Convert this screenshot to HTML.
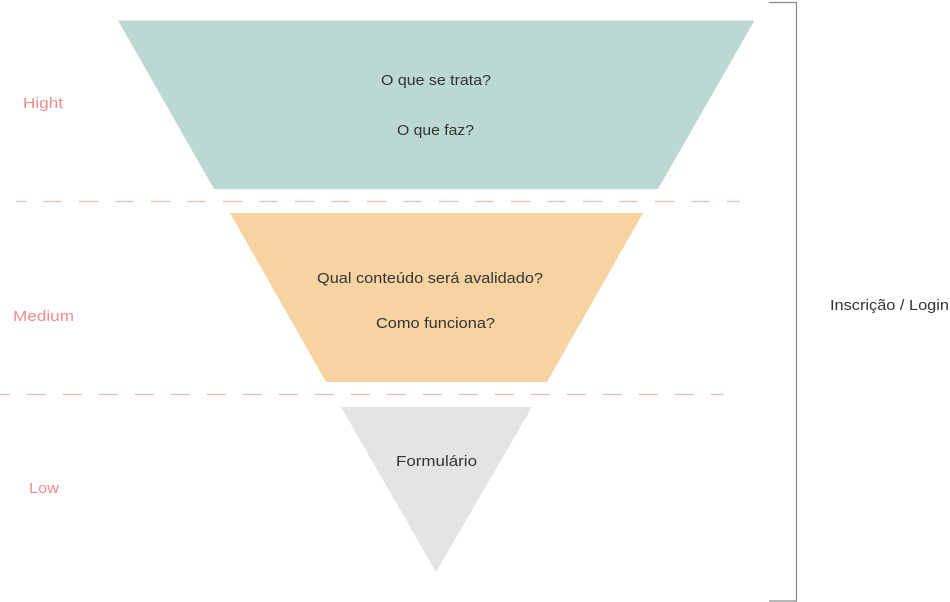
<!DOCTYPE html>
<html>
<head>
<meta charset="utf-8">
<style>
  html, body { margin: 0; padding: 0; background: #ffffff; }
  body { width: 950px; height: 602px; overflow: hidden; }
  svg { display: block; }
  text { font-family: "Liberation Sans", sans-serif; font-size: 15px; }
  .lvl { fill: #f28a8a; }
  .dark { fill: #333333; }
</style>
</head>
<body>
<svg width="950" height="602" viewBox="0 0 950 602" xmlns="http://www.w3.org/2000/svg">
  <!-- funnel shapes -->
  <polygon points="118,20.5 754.5,20.5 658,189 214,189" fill="#bcd8d2"/>
  <polygon points="230,213 643,213 547,382 326,382" fill="#f7d3a2"/>
  <polygon points="341,407 532,407 436,572" fill="#e4e4e4"/>

  <!-- dashed separators -->
  <line x1="16" y1="201.5" x2="740" y2="201.5" stroke="#f6b8b8" stroke-width="1.3" stroke-dasharray="19 17" stroke-dashoffset="9"/>
  <line x1="0" y1="394.5" x2="724" y2="394.5" stroke="#f6b8b8" stroke-width="1.3" stroke-dasharray="19 17" stroke-dashoffset="9"/>

  <!-- bracket -->
  <polyline points="769,2.5 796.5,2.5 796.5,601 769,601" fill="none" stroke="#8a8a8a" stroke-width="1.2"/>

  <!-- level labels -->
  <text class="lvl" x="23" y="108" textLength="40" lengthAdjust="spacingAndGlyphs">Hight</text>
  <text class="lvl" x="13" y="321" textLength="61" lengthAdjust="spacingAndGlyphs">Medium</text>
  <text class="lvl" x="29" y="493" textLength="30" lengthAdjust="spacingAndGlyphs">Low</text>

  <!-- funnel texts -->
  <text class="dark" x="381" y="85" textLength="110" lengthAdjust="spacingAndGlyphs">O que se trata?</text>
  <text class="dark" x="397" y="135" textLength="77" lengthAdjust="spacingAndGlyphs">O que faz?</text>
  <text class="dark" x="317" y="283" textLength="226" lengthAdjust="spacingAndGlyphs">Qual conteúdo será avalidado?</text>
  <text class="dark" x="376" y="328" textLength="119" lengthAdjust="spacingAndGlyphs">Como funciona?</text>
  <text class="dark" x="396" y="466" textLength="81" lengthAdjust="spacingAndGlyphs">Formulário</text>

  <!-- side label -->
  <text class="dark" x="830" y="310" textLength="119" lengthAdjust="spacingAndGlyphs">Inscrição / Login</text>
</svg>
</body>
</html>
